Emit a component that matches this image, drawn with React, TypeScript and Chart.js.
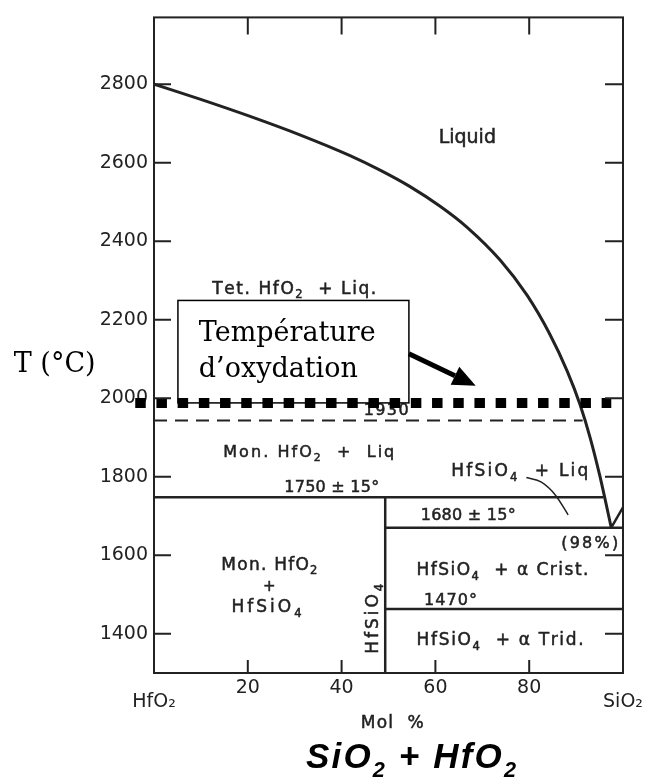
import React, { useEffect, useRef } from 'react';
import { Chart, registerables } from 'chart.js';

Chart.register(...registerables);

// ---- Data (mol % SiO2, temperature °C) ----
const LIQUIDUS_X = [0, 9.8, 20.5, 31.1, 41.8, 48.2, 54.6, 61.0, 66.7, 73.8, 79.5, 84.4, 88.1, 90.8, 93.0, 95.1, 97.5];
const LIQUIDUS_T = [2800, 2762, 2718, 2671, 2618, 2581, 2539, 2489, 2436, 2352, 2263, 2163, 2069, 1985, 1899, 1800, 1670];
const SILICA_LIQ_X = [97.5, 100];
const SILICA_LIQ_T = [1670, 1722];
const LEADER_X = [79.4, 82.6, 85.6, 88.3];
const LEADER_T = [1798, 1786, 1753, 1703];
const OXIDATION_X = [-4, 97.5];
const OXIDATION_T = [1988, 1988];
const TET_MON_X = [0, 91.4];
const TET_MON_T = [1943, 1943];
const MON_EUT_X = [0, 95.8];
const MON_EUT_T = [1748, 1748];
const HFSIO4_X = [49.3, 49.3];
const HFSIO4_T = [1748, 1300];
const SIL_EUT_X = [49.3, 100];
const SIL_EUT_T = [1670, 1670];
const CRIST_TRID_X = [49.3, 100];
const CRIST_TRID_T = [1463, 1463];

const X_TICKS = [0, 20, 40, 60, 80, 100];
const Y_TICKS = [1400, 1600, 1800, 2000, 2200, 2400, 2600, 2800];
const X_END_LABELS: Record<number, string> = { 0: 'HfO₂', 100: 'SiO₂' };

// ---- Region annotations (text, position in data units) ----
const REGION_LABELS = [
  { text: 'Liquid', x: 66.8, t: 2667, size: 19, w: 57 },
  { text: 'Tet. HfO_2  + Liq.', x: 29.9, t: 2282, size: 17, w: 164 },
  { text: '1930', x: 49.5, t: 1972, size: 16, w: 45 },
  { text: 'Mon. HfO_2  +  Liq', x: 33.0, t: 1866, size: 16, w: 171 },
  { text: '1750 ± 15°', x: 37.9, t: 1775, size: 16, w: 95 },
  { text: 'HfSiO_4  + Liq', x: 78.0, t: 1818, size: 17, w: 137 },
  { text: '1680 ± 15°', x: 67.0, t: 1705, size: 16, w: 95 },
  { text: '(98%)', x: 92.9, t: 1634, size: 16, w: 57 },
  { text: 'HfSiO_4  + α Crist.', x: 74.3, t: 1566, size: 17, w: 172 },
  { text: '1470°', x: 63.2, t: 1488, size: 16, w: 53 },
  { text: 'HfSiO_4  + α Trid.', x: 73.8, t: 1387, size: 17, w: 167 },
  { text: 'Mon. HfO_2', x: 24.6, t: 1579, size: 17, w: 96 },
  { text: '+', x: 24.6, t: 1523, size: 15, w: 0 },
  { text: 'HfSiO_4', x: 24.0, t: 1470, size: 17, w: 70 },
];
const VERTICAL_LABEL = { text: 'HfSiO_4', x: 46.5, t: 1438, size: 17, w: 70 };

const NOTE_BOX = { x0: 5.1, x1: 54.35, t0: 2249, t1: 1988 };
const NOTE_LINES = [
  { text: 'Température', x: 9.55, t: 2146 },
  { text: 'd’oxydation', x: 9.55, t: 2055 },
];
const ARROW = { x0: 54.35, t0: 2113, x1: 68.6, t1: 2032 };
const Y_TITLE = { text: 'T (°C)', x: -29.9, t: 2067 };
const X_TITLE = { text: 'Mol  %', x: 50.8, t: 1176 };
const MAIN_TITLE = { text: 'SiO_2 + HfO_2', x: 54.8, t: 1091 };

const INK = '#222222';
const SANS = '"DejaVu Sans", sans-serif';
const SERIF = '"DejaVu Serif", serif';

function toPts(xs: number[], ys: number[]) {
  return xs.map((x, i) => ({ x, y: ys[i] }));
}

function parseRich(s: string) {
  const out: { ch: string; sub: boolean }[] = [];
  for (let i = 0; i < s.length; i++) {
    if (s[i] === '_' && i + 1 < s.length) {
      out.push({ ch: s[i + 1], sub: true });
      i++;
    } else out.push({ ch: s[i], sub: false });
  }
  return out;
}

function drawRich(
  ctx: CanvasRenderingContext2D,
  s: string,
  x: number,
  cy: number,
  size: number,
  family: string,
  style: string,
  targetW: number,
  align: 'center' | 'left',
  capRatio = 0.73,
  subRatio = 0.68,
  strokeW = 0,
) {
  const chars = parseRich(s);
  const fMain = `${style} ${size}px ${family}`;
  const fSub = `${style} ${size * subRatio}px ${family}`;
  const widths = chars.map((c) => {
    ctx.font = c.sub ? fSub : fMain;
    return ctx.measureText(c.ch).width;
  });
  const natural = widths.reduce((a, b) => a + b, 0);
  let sp = 0;
  if (targetW && chars.length > 1) sp = Math.max(0, (targetW - natural) / (chars.length - 1));
  const total = natural + sp * (chars.length - 1);
  let px = align === 'left' ? x : x - total / 2;
  const base = cy + (size * capRatio) / 2;
  ctx.textAlign = 'left';
  ctx.textBaseline = 'alphabetic';
  ctx.lineWidth = strokeW;
  ctx.strokeStyle = ctx.fillStyle as string;
  chars.forEach((c, i) => {
    ctx.font = c.sub ? fSub : fMain;
    const yy = c.sub ? base + size * 0.28 : base;
    ctx.fillText(c.ch, px, yy);
    if (strokeW > 0) ctx.strokeText(c.ch, px, yy);
    px += widths[i] + sp;
  });
}

const annotations = {
  id: 'phaseAnnotations',
  beforeDatasetsDraw(chart: any) {
    const ctx: CanvasRenderingContext2D = chart.ctx;
    const xs = chart.scales.x;
    const ys = chart.scales.y;
    const X = (v: number) => xs.getPixelForValue(v);
    const Y = (v: number) => ys.getPixelForValue(v);
    ctx.save();
    ctx.fillStyle = INK;
    REGION_LABELS.forEach((l) => {
      drawRich(ctx, l.text, X(l.x), Y(l.t), l.size, SANS, 'normal', l.w, 'center', 0.73, 0.68, 0.5);
    });
    // vertical compound label
    ctx.save();
    ctx.translate(X(VERTICAL_LABEL.x), Y(VERTICAL_LABEL.t));
    ctx.rotate(-Math.PI / 2);
    drawRich(ctx, VERTICAL_LABEL.text, 0, 0, VERTICAL_LABEL.size, SANS, 'normal', VERTICAL_LABEL.w, 'center', 0.73, 0.68, 0.5);
    ctx.restore();

    // note box
    const bx0 = X(NOTE_BOX.x0), bx1 = X(NOTE_BOX.x1);
    const by0 = Y(NOTE_BOX.t0), by1 = Y(NOTE_BOX.t1);
    ctx.fillStyle = '#ffffff';
    ctx.fillRect(bx0, by0, bx1 - bx0, by1 - by0);
    ctx.strokeStyle = '#000000';
    ctx.lineWidth = 1.5;
    ctx.strokeRect(bx0, by0, bx1 - bx0, by1 - by0);
    ctx.fillStyle = '#000000';
    ctx.textAlign = 'left';
    ctx.textBaseline = 'alphabetic';
    ctx.font = `27px ${SERIF}`;
    NOTE_LINES.forEach((n) => ctx.fillText(n.text, X(n.x), Y(n.t)));
    ctx.restore();
  },
  afterDatasetsDraw(chart: any) {
    const ctx: CanvasRenderingContext2D = chart.ctx;
    const xs = chart.scales.x;
    const ys = chart.scales.y;
    const X = (v: number) => xs.getPixelForValue(v);
    const Y = (v: number) => ys.getPixelForValue(v);
    const { left, right, top, bottom } = chart.chartArea;
    ctx.save();
    // frame
    ctx.strokeStyle = INK;
    ctx.lineWidth = 2;
    ctx.strokeRect(left, top, right - left, bottom - top);
    // inward ticks
    ctx.beginPath();
    Y_TICKS.forEach((v) => {
      const y = Y(v);
      ctx.moveTo(left, y);
      ctx.lineTo(left + 17, y);
      ctx.moveTo(right, y);
      ctx.lineTo(right - 18, y);
    });
    X_TICKS.filter((v) => v > 0 && v < 100).forEach((v) => {
      const x = X(v);
      ctx.moveTo(x, top);
      ctx.lineTo(x, top + 17);
      ctx.moveTo(x, bottom);
      ctx.lineTo(x, bottom - 13);
    });
    ctx.stroke();

    // arrow
    const ax0 = X(ARROW.x0), ay0 = Y(ARROW.t0), ax1 = X(ARROW.x1), ay1 = Y(ARROW.t1);
    const ang = Math.atan2(ay1 - ay0, ax1 - ax0);
    const headL = 23, headW = 10;
    const bxp = ax1 - headL * Math.cos(ang), byp = ay1 - headL * Math.sin(ang);
    ctx.strokeStyle = '#000';
    ctx.fillStyle = '#000';
    ctx.lineWidth = 5;
    ctx.beginPath();
    ctx.moveTo(ax0, ay0);
    ctx.lineTo(bxp, byp);
    ctx.stroke();
    ctx.beginPath();
    ctx.moveTo(ax1, ay1);
    ctx.lineTo(bxp + headW * Math.sin(ang), byp - headW * Math.cos(ang));
    ctx.lineTo(bxp - headW * Math.sin(ang), byp + headW * Math.cos(ang));
    ctx.closePath();
    ctx.fill();

    // axis titles
    ctx.fillStyle = '#000';
    ctx.font = `27px ${SERIF}`;
    ctx.textAlign = 'left';
    ctx.textBaseline = 'alphabetic';
    ctx.fillText(Y_TITLE.text, X(Y_TITLE.x), Y(Y_TITLE.t));
    ctx.fillStyle = INK;
    drawRich(ctx, X_TITLE.text, X(X_TITLE.x), Y(X_TITLE.t), 17, SANS, 'normal', 63, 'center', 0.73, 0.68, 0.5);
    ctx.fillStyle = '#000';
    drawRich(ctx, MAIN_TITLE.text, X(MAIN_TITLE.x), Y(MAIN_TITLE.t), 35, '"Liberation Sans", Arial, sans-serif', 'italic bold', 210, 'center', 0.72, 0.62);
    ctx.restore();
  },
};

export default function App() {
  const ref = useRef<HTMLCanvasElement | null>(null);
  useEffect(() => {
    document.body.style.margin = '0';
    const canvas = ref.current;
    if (!canvas) return;
    const line = (data: any[], extra: any = {}) => ({
      data,
      showLine: true,
      pointRadius: 0,
      borderColor: INK,
      borderWidth: 2.5,
      fill: false,
      ...extra,
    });
    const chart = new Chart(canvas, {
      type: 'scatter',
      data: {
        datasets: [
          line(toPts(OXIDATION_X, OXIDATION_T), {
            borderColor: '#000',
            borderWidth: 10,
            borderDash: [10.5, 10.7],
            borderCapStyle: 'butt',
            clip: false,
          }),
          line(toPts(LIQUIDUS_X, LIQUIDUS_T), { borderWidth: 3, cubicInterpolationMode: 'monotone' }),
          line(toPts(SILICA_LIQ_X, SILICA_LIQ_T), { borderWidth: 2.5 }),
          line(toPts(LEADER_X, LEADER_T), { borderWidth: 1.5, cubicInterpolationMode: 'monotone' }),
          line(toPts(TET_MON_X, TET_MON_T), { borderDash: [13, 8], borderWidth: 2 }),
          line(toPts(MON_EUT_X, MON_EUT_T)),
          line(toPts(HFSIO4_X, HFSIO4_T)),
          line(toPts(SIL_EUT_X, SIL_EUT_T)),
          line(toPts(CRIST_TRID_X, CRIST_TRID_T)),
        ],
      },
      options: {
        responsive: false,
        animation: false,
        events: [],
        layout: { padding: { top: 10, right: 28, left: 0, bottom: 0 } },
        plugins: { legend: { display: false }, tooltip: { enabled: false }, title: { display: false } },
        scales: {
          x: {
            type: 'linear',
            min: 0,
            max: 100,
            grid: { display: false, drawTicks: false },
            border: { display: false },
            afterBuildTicks: (s: any) => {
              s.ticks = X_TICKS.map((v) => ({ value: v }));
            },
            afterFit: (s: any) => {
              s.height = 110;
            },
            ticks: {
              autoSkip: false,
              maxRotation: 0,
              padding: 8,
              color: INK,
              font: { family: SANS, size: 19, lineHeight: 0.75 },
              callback: (v: any) => (X_END_LABELS[v] ? ['', X_END_LABELS[v]] : String(v)),
            },
          },
          y: {
            type: 'linear',
            min: 1300,
            max: 2970,
            grid: { display: false, drawTicks: false },
            border: { display: false },
            afterBuildTicks: (s: any) => {
              s.ticks = Y_TICKS.map((v) => ({ value: v }));
            },
            afterFit: (s: any) => {
              s.width = 154;
            },
            ticks: {
              padding: 6,
              color: INK,
              font: { family: SANS, size: 19 },
              callback: (v: any) => String(v),
            },
          },
        },
      },
      plugins: [annotations],
    } as any);
    return () => chart.destroy();
  }, []);
  return (
    <canvas
      ref={ref}
      width={651}
      height={783}
      style={{ display: 'block', width: 651, height: 783 }}
    />
  );
}
